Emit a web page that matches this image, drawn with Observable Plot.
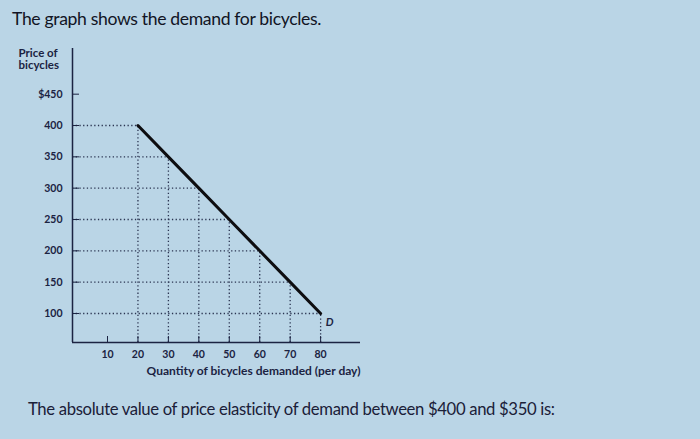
<!DOCTYPE html>
<html>
<head>
<meta charset="utf-8">
<script src="https://cdn.jsdelivr.net/npm/d3@7"></script>
<script src="https://cdn.jsdelivr.net/npm/@observablehq/plot@0.6"></script>
<style>
  html, body { margin: 0; padding: 0; background: #bad5e6; width: 700px; height: 439px; overflow: hidden; }
  #title { font-family: Lato, sans-serif; font-size: 17.6px; color: #111424; height: 40px; box-sizing: border-box; padding: 8px 0 0 12px; letter-spacing: -0.35px; }
  #caption { font-family: Lato, sans-serif; font-size: 16.7px; color: #1a2038; padding: 4px 0 0 28px; letter-spacing: -0.35px; }
  svg { display: block; }
</style>
</head>
<body>
<div id="title">The graph shows the demand for bicycles.</div>
<div id="chart"></div>
<div id="caption">The absolute value of price elasticity of demand between $400 and $350 is:</div>
<script>
const quantity = [20, 30, 40, 50, 60, 70, 80];
const price = [400, 350, 300, 250, 200, 150, 100];
const xTicks = [10, 20, 30, 40, 50, 60, 70, 80];
const yTicks = [100, 150, 200, 250, 300, 350, 400, 450];
const yTickLabels = ["100", "150", "200", "250", "300", "350", "400", "$450"];
const curveLabel = "D";
const xTitle = "Quantity of bicycles demanded (per day)";
const yTitle = "Price of bicycles";

const data = quantity.map((q, i) => ({q, p: price[i]}));
const xDomain = [-1.5, 93.1];
const yDomain = [53.7, 522.9];
const ink = "#1b2342";

const chart = Plot.plot({
  width: 700,
  height: 355,
  marginLeft: 72,
  marginRight: 340,
  marginTop: 8,
  marginBottom: 53,
  style: {background: "transparent", fontFamily: "Lato, sans-serif", color: ink},
  x: {domain: xDomain},
  y: {domain: yDomain},
  marks: [
    Plot.ruleY(data, {y: "p", x1: xDomain[0], x2: "q", stroke: "#2b3552", strokeWidth: 1.3, strokeDasharray: "1.3,2.4"}),
    Plot.ruleX(data, {x: "q", y1: yDomain[0], y2: "p", stroke: "#2b3552", strokeWidth: 1.3, strokeDasharray: "1.3,2.4"}),
    Plot.ruleX([xDomain[0]], {stroke: ink, strokeWidth: 1.5}),
    Plot.ruleY([yDomain[0]], {stroke: ink, strokeWidth: 1.5}),
    Plot.axisY({ticks: yTicks, tickSize: -7, tickPadding: 17, tickFormat: (d) => yTickLabels[yTicks.indexOf(d)], label: null, fontSize: 10.5, fontWeight: "bold", stroke: ink}),
    Plot.axisX({ticks: xTicks, tickSize: -6, tickPadding: 14, label: null, fontSize: 10.5, fontWeight: "bold"}),
    Plot.text([xTitle], {frameAnchor: "bottom-right", dy: 32, text: d => d, fontSize: 12, fontWeight: "bold", textAnchor: "end", fill: ink}),
    Plot.line(data, {x: "q", y: "p", stroke: "#0d0d10", strokeWidth: 3}),
    Plot.text([data[data.length - 1]], {x: "q", y: "p", text: () => curveLabel, dx: 9, dy: 9, fontStyle: "italic", fontSize: 11, fontWeight: "bold", fill: ink}),
    Plot.text([yTitle], {frameAnchor: "top-left", dx: -54, dy: 0, text: d => d.replace(" bicycles", "\nbicycles"), fontSize: 11.5, fontWeight: "bold", textAnchor: "start", lineHeight: 1.05, fill: ink})
  ]
});
document.getElementById("chart").appendChild(chart);
</script>
</body>
</html>
